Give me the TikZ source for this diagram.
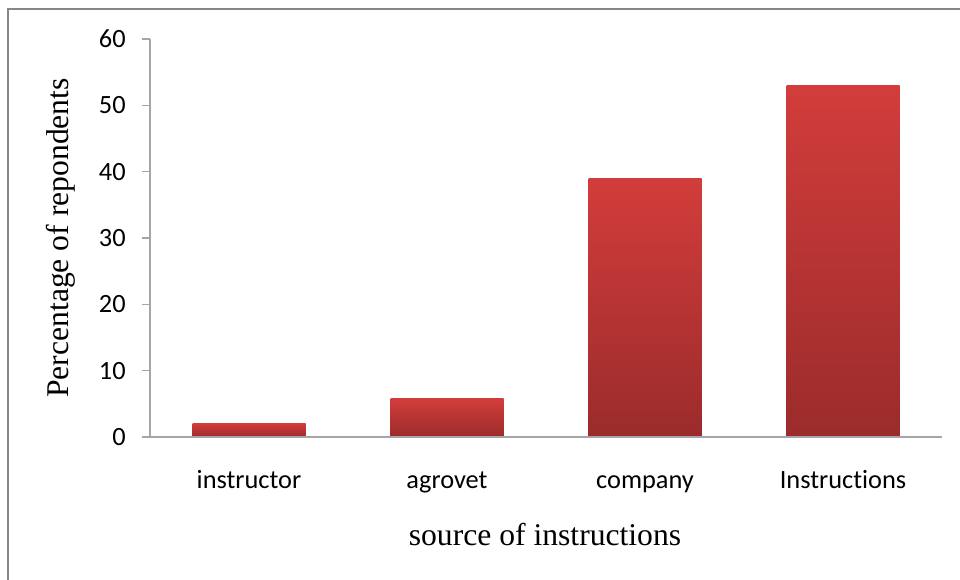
\documentclass[tikz,border=0pt]{standalone}
\usepackage{fontspec}
\setmainfont{Liberation Serif}
\newfontfamily\calibri[Ligatures=NoCommon]{Carlito}
\definecolor{bartop}{RGB}{210,61,59}
\definecolor{barbot}{RGB}{155,43,43}
\definecolor{axisgray}{RGB}{165,165,165}
\definecolor{framegray}{RGB}{135,135,135}
\tikzset{
  ticklabel/.style={font=\calibri\fontsize{15}{18}\selectfont, anchor=east, inner sep=0pt},
  catlabel/.style={font=\calibri\fontsize{15}{18}\selectfont, anchor=base, inner sep=0pt},
  axistitle/.style={font=\fontsize{18}{21}\selectfont},
  bar/.style={top color=bartop, bottom color=barbot}
}
\begin{document}
\begin{tikzpicture}[x=0.02cm,y=-0.02cm]
 \useasboundingbox (0,0) rectangle (960,580);
 \clip (0,0) rectangle (960,580);
 \draw[framegray, line width=1.1pt] (8,590) -- (8,9) -- (970,9); % chart frame
 \draw[axisgray, line width=0.85pt] (150,437) -- (150,39);
 \foreach \v in {0,10,...,60} % ticks and their labels
   {
   \draw[axisgray, line width=0.85pt] (142,{437-6.633*\v}) -- (150,{437-6.633*\v});
   \node[ticklabel] (tick\v) at (126,{437-6.633*\v}) {\v};
   }
 \foreach \i/\val/\lab in {1/2/instructor,2/5.8/agrovet,3/39/company,4/53/Instructions} % bars
   {
   \shade[bar] ({150+198*(\i-0.5)-56.5},437) rectangle ({150+198*(\i-0.5)+56.5},{437-6.633*\val});
   \node[catlabel] (cat\i) at ({150+198*(\i-0.5)},489) {\lab};
   }
 \draw[axisgray, line width=0.85pt] (142,437) -- (942,437);
 \node[axistitle] (xtitle) at (545,535) {source of instructions};
 \node[axistitle, rotate=90] (ytitle) at (61,238) {Percentage of repondents};
\end{tikzpicture}
\end{document}
